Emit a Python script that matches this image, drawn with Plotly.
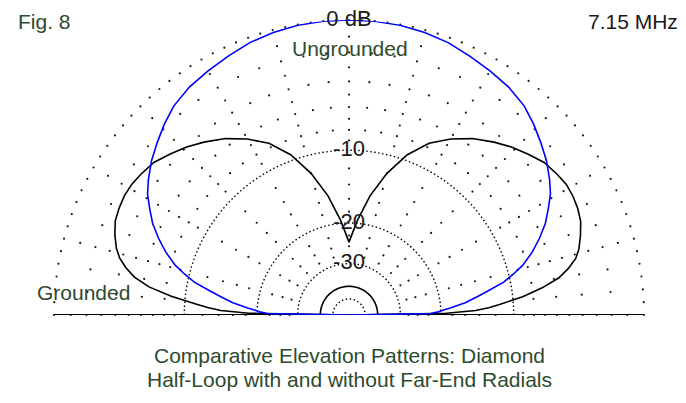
import plotly.graph_objects as go

# ---------------- data (elevation angle in degrees, gain in dB) ----------------
elev_angles = [0, 1, 2, 3, 4, 6, 8, 10, 12, 14, 16, 19, 22, 25, 28, 31, 34, 38, 42, 46, 50, 55, 60, 65, 70, 75, 80, 85, 90,
               95, 100, 105, 110, 115, 120, 125, 130, 134, 138, 142, 146, 149, 152, 155, 158, 161, 164, 166, 168, 170, 172,
               174, 176, 177, 178, 179, 180]

ungrounded_db = [-99, -22, -20.5, -19.5, -18.3, -15.9, -14.2, -12.5, -10.7, -9.5, -8.4, -7.2, -6.2, -5.3, -4.6, -3.9, -3.4,
                 -2.8, -2.3, -1.8, -1.35, -1.0, -0.78, -0.55, -0.3, -0.15, -0.05, 0, 0,
                 0, -0.05, -0.15, -0.3, -0.55, -0.78, -1.0, -1.35, -1.8, -2.3, -2.8, -3.4, -3.9, -4.6, -5.3, -6.2, -7.2,
                 -8.4, -9.5, -10.7, -12.5, -14.2, -15.9, -18.3, -19.5, -20.5, -22, -99]

grounded_db = [-99, -19, -14.5, -12.8, -11.5, -9.0, -7.1, -5.6, -4.7, -4.0, -3.6, -3.2, -2.85, -2.68, -2.6, -2.6, -2.75,
               -3.0, -3.5, -4.0, -4.6, -5.4, -6.4, -7.6, -9.4, -12.0, -15.3, -19.5, -24,
               -19.5, -15.3, -12.0, -9.4, -7.6, -6.4, -5.4, -4.6, -4.0, -3.5, -3.0, -2.75, -2.6, -2.55, -2.6, -2.7,
               -3.0, -3.4, -3.8, -4.4, -5.2, -6.5, -8.6, -11.3, -12.6, -14.3, -18.5, -99]

ring_labels_db = [0, -10, -20, -30]
ring_label_text = ["0 dB", "-10", "-20", "-30"]

# ---------------- ARRL log-periodic radial scale ----------------
def arrl(db):
    return 0.89 ** (-db / 2.0)

BLUE = "#0000FF"
BLACK = "#000000"
DOT = "#1a1a1a"
GREEN = "#2E4A2E"
FONT = "Liberation Sans, Arial, sans-serif"

fig = go.Figure()


def dots(r, theta, size=2.2):
    fig.add_trace(go.Scatterpolar(r=r, theta=theta, mode="markers",
                                  marker=dict(size=size, color=DOT, line=dict(width=0)),
                                  hoverinfo="skip", showlegend=False))


def arc(db, t0, t1, step, dash, width):
    n = int(round((t1 - t0) / step))
    th = [t0 + i * step for i in range(n + 1)]
    fig.add_trace(go.Scatterpolar(r=[arrl(db)] * len(th), theta=th, mode="lines",
                                  line=dict(color=BLACK, width=width, dash=dash),
                                  hoverinfo="skip", showlegend=False))


# outer 0 dB ring (sparse dots)
th = [i * 2.5 for i in range(73)]
dots([1.0] * len(th), th)

# -2 .. -8 dB rings, dot every 5 degrees
rr, tt = [], []
for db in [-2, -4, -6, -8]:
    for i in range(37):
        rr.append(arrl(db))
        tt.append(i * 5)
dots(rr, tt)

# radial lines every 15 degrees
rr, tt = [], []
for k in range(13):
    a = k * 15
    for db in [-1, -3, -5, -7, -9] + [-12, -14, -16, -18] + [-22.5, -25, -27.5]:
        rr.append(arrl(db))
        tt.append(a)
dots(rr, tt)

# dense dotted rings
arc(-10, 0, 180, 1, "1.5px,2.5px", 1.4)
arc(-20, 0, 180, 1, "1.5px,2.5px", 1.4)
arc(-30, -6, 186, 1, "1.5px,2.5px", 1.4)
arc(-50, -18, 198, 2, "1.5px,2.5px", 1.4)
# solid -40 ring
arc(-40, -10, 190, 2, "solid", 1.6)

# baseline
fig.add_trace(go.Scatterpolar(r=[1, 0, 1], theta=[0, 0, 180], mode="lines",
                              line=dict(color=BLACK, width=2), hoverinfo="skip", showlegend=False))

# patterns
fig.add_trace(go.Scatterpolar(r=[arrl(v) for v in grounded_db], theta=elev_angles, mode="lines",
                              line=dict(color=BLACK, width=1.6), name="Grounded", showlegend=False))
fig.add_trace(go.Scatterpolar(r=[arrl(v) for v in ungrounded_db], theta=elev_angles, mode="lines",
                              line=dict(color=BLUE, width=1.6), name="Ungrounded", showlegend=False))

# ring labels
fig.add_trace(go.Scatterpolar(r=[arrl(v) for v in ring_labels_db], theta=[90] * len(ring_labels_db),
                              mode="text", text=ring_label_text, textposition="middle center",
                              textfont=dict(family=FONT, size=22, color="#1a1a1a"),
                              hoverinfo="skip", showlegend=False))

W, H = 686, 403
cx, base_y, top_y, left_x, right_x = 349, 315, 20, 54, 644

fig.update_layout(
    width=W, height=H,
    margin=dict(l=0, r=0, t=0, b=0),
    paper_bgcolor="white", plot_bgcolor="white",
    polar=dict(
        domain=dict(x=[left_x / W, right_x / W], y=[(H - base_y) / H, (H - top_y) / H]),
        sector=[0, 180],
        bgcolor="white",
        radialaxis=dict(range=[0, 1], visible=False, showgrid=False),
        angularaxis=dict(visible=False, showgrid=False, rotation=0, direction="counterclockwise"),
    ),
    annotations=[
        dict(text="Fig. 8", x=16 / W, y=1 - 21 / H, xref="paper", yref="paper", xanchor="left", yanchor="middle",
             showarrow=False, font=dict(family=FONT, size=21, color=GREEN)),
        dict(text="7.15 MHz", x=680 / W, y=1 - 22 / H, xref="paper", yref="paper", xanchor="right", yanchor="middle",
             showarrow=False, font=dict(family=FONT, size=21, color="#1a1a1a")),
        dict(text="Ungrounded", x=350 / W, y=1 - 48 / H, xref="paper", yref="paper", xanchor="center",
             yanchor="middle", showarrow=False, font=dict(family=FONT, size=21, color=GREEN)),
        dict(text="Grounded", x=35 / W, y=1 - 292 / H, xref="paper", yref="paper", xanchor="left",
             yanchor="middle", showarrow=False, font=dict(family=FONT, size=21, color=GREEN)),
        dict(text="Comparative Elevation Patterns: Diamond", x=349 / W, y=1 - 355 / H, xref="paper", yref="paper",
             xanchor="center", yanchor="middle", showarrow=False, font=dict(family=FONT, size=21, color=GREEN)),
        dict(text="Half-Loop with and without Far-End Radials", x=349 / W, y=1 - 379 / H, xref="paper",
             yref="paper", xanchor="center", yanchor="middle", showarrow=False,
             font=dict(family=FONT, size=21, color=GREEN)),
    ],
)

fig.write_html("out.html", config={"displayModeBar": False},
               post_script="document.body.style.margin='0px';document.body.style.padding='0px';")
